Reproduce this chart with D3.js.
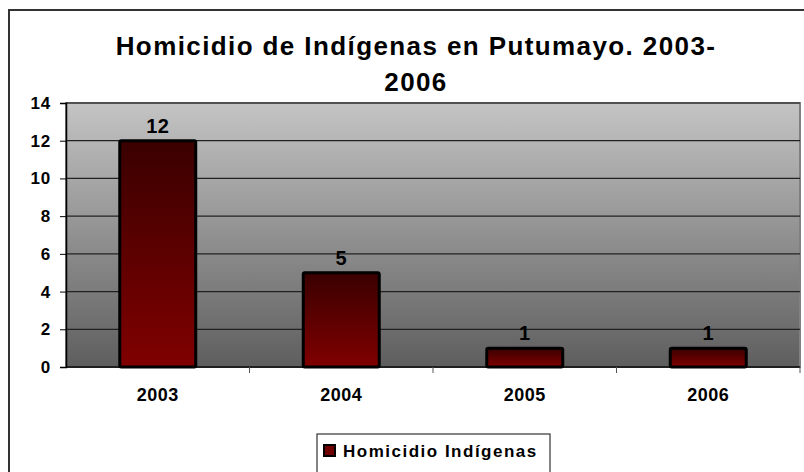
<!DOCTYPE html>
<html>
<head>
<meta charset="utf-8">
<script src="https://cdn.jsdelivr.net/npm/d3@7"></script>
<style>
  body { margin: 0; background: #fff; }
  text { font-family: "Liberation Sans", Arial, sans-serif; font-weight: bold; fill: #000; }
</style>
</head>
<body>
<svg id="chart"></svg>
<script>
const width = 804;
const height = 472;

const years = ["2003", "2004", "2005", "2006"];
const homicidios = [12, 5, 1, 1];
const yTicks = [0, 2, 4, 6, 8, 10, 12, 14];
const titleLines = ["Homicidio de Indígenas en Putumayo. 2003-", "2006"];
const seriesName = "Homicidio Indígenas";

const plot = { left: 66, right: 800, top: 103, bottom: 367 };

const svg = d3.select("#chart")
    .attr("width", width)
    .attr("height", height);

const defs = svg.append("defs");

const bgGrad = defs.append("linearGradient")
    .attr("id", "bg-grad")
    .attr("x1", 0).attr("y1", 0).attr("x2", 0).attr("y2", 1);
bgGrad.append("stop").attr("offset", "0%").attr("stop-color", "#c4c4c4");
bgGrad.append("stop").attr("offset", "100%").attr("stop-color", "#5e5e5e");

const barGrad = defs.append("linearGradient")
    .attr("id", "bar-grad")
    .attr("x1", 0).attr("y1", 0).attr("x2", 0).attr("y2", 1);
barGrad.append("stop").attr("offset", "0%").attr("stop-color", "#3a0000");
barGrad.append("stop").attr("offset", "100%").attr("stop-color", "#800000");

// outer frame (runs past the picture edge on the right and bottom)
svg.append("rect")
    .attr("x", 9)
    .attr("y", 10)
    .attr("width", 900)
    .attr("height", 600)
    .attr("fill", "none")
    .attr("stroke", "#333")
    .attr("stroke-width", 2);

// title
svg.append("text")
    .attr("text-anchor", "middle")
    .style("font-size", "26px")
    .style("letter-spacing", "1.4px")
    .selectAll("tspan")
    .data(titleLines)
    .enter()
    .append("tspan")
    .attr("x", 416)
    .attr("y", (d, i) => 55 + i * 36)
    .text(d => d);

const xScale = d3.scaleBand()
    .domain(years)
    .range([plot.left, plot.right]);

const yScale = d3.scaleLinear()
    .domain([0, 14])
    .range([plot.bottom, plot.top]);

// plot area
svg.append("rect")
    .attr("x", plot.left)
    .attr("y", plot.top)
    .attr("width", plot.right - plot.left)
    .attr("height", plot.bottom - plot.top)
    .attr("fill", "url(#bg-grad)")
    .attr("stroke", "#808080")
    .attr("stroke-width", 2);

// gridlines
svg.append("g")
    .selectAll("line")
    .data(yTicks.filter(d => d > 0))
    .enter()
    .append("line")
    .attr("x1", plot.left)
    .attr("x2", plot.right)
    .attr("y1", d => yScale(d))
    .attr("y2", d => yScale(d))
    .attr("stroke", "#222")
    .attr("stroke-width", 1.2);

// y axis
const yAxis = d3.axisLeft(yScale)
    .tickValues(yTicks)
    .tickSize(6)
    .tickPadding(9);

svg.append("g")
    .attr("id", "y-axis")
    .attr("transform", `translate(${plot.left}, 0)`)
    .call(yAxis)
    .call(g => g.select(".domain").attr("stroke", "#000").attr("stroke-width", 1.5))
    .call(g => g.selectAll(".tick line").attr("stroke", "#000"))
    .call(g => g.selectAll(".tick text")
        .style("font-size", "17px")
        .style("letter-spacing", "0.8px")
        .style("font-family", "Liberation Sans, Arial, sans-serif")
        .style("font-weight", "bold"));

// x axis line + ticks at category boundaries
svg.append("line")
    .attr("x1", plot.left)
    .attr("x2", plot.right)
    .attr("y1", plot.bottom)
    .attr("y2", plot.bottom)
    .attr("stroke", "#000")
    .attr("stroke-width", 1.5);

svg.append("g")
    .selectAll("line")
    .data(years.slice(1).concat(["end"]))
    .enter()
    .append("line")
    .attr("x1", (d, i) => i < years.length - 1 ? xScale(d) : plot.right)
    .attr("x2", (d, i) => i < years.length - 1 ? xScale(d) : plot.right)
    .attr("y1", plot.bottom)
    .attr("y2", plot.bottom + 6)
    .attr("stroke", "#555");

svg.append("g")
    .selectAll("text")
    .data(years)
    .enter()
    .append("text")
    .attr("x", d => xScale(d) + xScale.bandwidth() / 2)
    .attr("y", 401)
    .attr("text-anchor", "middle")
    .style("font-size", "18px")
    .style("letter-spacing", "0.5px")
    .text(d => d);

// bars
const barW = xScale.bandwidth() * 0.414;

svg.append("g")
    .selectAll("rect")
    .data(years)
    .enter()
    .append("rect")
    .attr("x", d => xScale(d) + (xScale.bandwidth() - barW) / 2)
    .attr("y", (d, i) => yScale(homicidios[i]))
    .attr("width", barW)
    .attr("height", (d, i) => yScale(0) - yScale(homicidios[i]))
    .attr("rx", 1.5)
    .attr("fill", "url(#bar-grad)")
    .attr("stroke", "#000")
    .attr("stroke-width", 3);

// data labels
svg.append("g")
    .selectAll("text")
    .data(years)
    .enter()
    .append("text")
    .attr("x", d => xScale(d) + xScale.bandwidth() / 2)
    .attr("y", (d, i) => yScale(homicidios[i]) - 8)
    .attr("text-anchor", "middle")
    .style("font-size", "20px")
    .style("letter-spacing", "0.5px")
    .text((d, i) => homicidios[i]);

// legend
const legend = svg.append("g");

legend.append("rect")
    .attr("x", 317)
    .attr("y", 434)
    .attr("width", 233)
    .attr("height", 60)
    .attr("fill", "#fff")
    .attr("stroke", "#333")
    .attr("stroke-width", 1.2);

legend.append("rect")
    .attr("x", 324)
    .attr("y", 445)
    .attr("width", 11)
    .attr("height", 11)
    .attr("fill", "#700000")
    .attr("stroke", "#000")
    .attr("stroke-width", 2);

legend.append("text")
    .attr("x", 343)
    .attr("y", 457)
    .style("font-size", "17px")
    .style("letter-spacing", "1.5px")
    .text(seriesName);
</script>
</body>
</html>
